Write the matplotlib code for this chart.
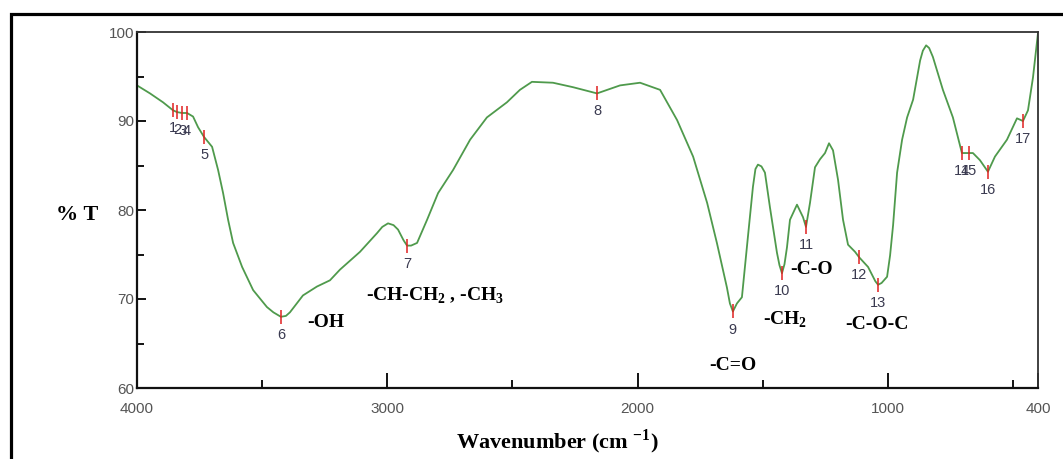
import matplotlib
matplotlib.use("Agg")
import matplotlib.pyplot as plt
from matplotlib.patches import Rectangle
from matplotlib.ticker import FixedLocator

plt.rcParams['mathtext.fontset'] = 'custom'
plt.rcParams['mathtext.rm'] = 'Liberation Serif'
plt.rcParams['mathtext.bf'] = 'Liberation Serif:bold'

# FTIR spectrum
wavenumber = [4000, 3948, 3896, 3856, 3840, 3820, 3800, 3776, 3756, 3732, 3700, 3676,
              3656, 3636, 3616, 3580, 3536, 3481, 3455, 3425, 3405, 3389, 3337, 3281,
              3229, 3189, 3109, 3041, 3020, 2997, 2975, 2957, 2935, 2921, 2905, 2881,
              2841, 2797, 2737, 2669, 2602, 2522, 2470, 2422, 2338, 2258, 2162, 2070,
              1990, 1910, 1842, 1778, 1722, 1683, 1643, 1631, 1619, 1603, 1583, 1559,
              1539, 1529, 1519, 1505, 1491, 1471, 1443, 1433, 1423, 1413, 1403, 1391,
              1363, 1339, 1327, 1311, 1291, 1271, 1251, 1235, 1219, 1199, 1179, 1159,
              1131, 1115, 1079, 1050, 1039, 1025, 1003, 991, 979, 963, 943, 923, 899,
              871, 860, 847, 835, 820, 780, 740, 704, 676, 660, 632, 600, 572, 524, 484,
              460, 440, 420, 400]
transmittance = [94.0, 93.1, 92.1, 91.2, 91.0, 90.9, 90.9, 90.5, 89.3, 88.2, 87.1, 84.5,
                 81.9, 78.9, 76.3, 73.6, 71.0, 69.1, 68.5, 68.0, 68.1, 68.5, 70.4, 71.4,
                 72.1, 73.3, 75.3, 77.4, 78.1, 78.5, 78.3, 77.8, 76.6, 76.0, 76.0, 76.3,
                 78.9, 81.9, 84.5, 87.9, 90.4, 92.1, 93.5, 94.4, 94.3, 93.8, 93.1, 94.0,
                 94.3, 93.5, 90.1, 86.0, 80.8, 76.3, 71.3, 69.5, 68.6, 69.5, 70.2, 77.0,
                 82.6, 84.6, 85.1, 84.9, 84.2, 80.3, 75.2, 73.8, 72.9, 73.9, 75.8, 78.9,
                 80.6, 79.2, 78.1, 80.8, 84.8, 85.7, 86.4, 87.5, 86.7, 83.4, 78.9, 76.1,
                 75.3, 74.7, 73.6, 72.0, 71.6, 71.8, 72.5, 74.9, 78.3, 84.2, 87.9, 90.4,
                 92.4, 96.8, 97.9, 98.5, 98.2, 97.2, 93.5, 90.4, 86.4, 86.4, 86.4, 85.6,
                 84.3, 86.0, 87.9, 90.3, 90.0, 91.2, 94.9, 99.9]

# picked peaks
peak_wn = [3856, 3840, 3820, 3800, 3732, 3425, 2921, 2162, 1619, 1423, 1327, 1115,
           1039, 704, 676, 600, 460]
peak_t = [91.2, 91.0, 90.9, 90.9, 88.2, 68.0, 76.0, 93.1, 68.6, 72.9, 78.1, 74.7,
          71.6, 86.4, 86.4, 84.3, 90.0]
peak_labels = [str(i) for i in range(1, 18)]

# band assignments: (text, wavenumber, %T)
bands = [('-OH', 3245, 67.4),
         ('-CH-CH$_\\mathbf{2}$ , -CH$_\\mathbf{3}$', 2810, 70.3),
         ('-C=O', 1620, 62.5),
         ('-CH$_\\mathbf{2}$', 1410, 67.7),
         ('-C-O', 1306, 73.3),
         ('-C-O-C', 1043, 67.1)]

fig = plt.figure(figsize=(10.63, 4.59), dpi=100)
ax = fig.add_axes([137 / 1063, 71 / 459, 901 / 1063, 356 / 459])

ax.plot(wavenumber, transmittance, color='#4f9a4c', lw=1.3)
ax.plot(peak_wn, peak_t, '|', color='#e02020', ms=10, mew=1.1)
for wn, t, lab in zip(peak_wn, peak_t, peak_labels):
    ax.annotate(lab, (wn, t), xytext=(0, -13), textcoords='offset points',
                ha='center', va='center', fontsize=10.5, color='#3a3a50',
                family=['Liberation Sans Narrow', 'Liberation Sans'])

for text, wn, t in bands:
    ax.text(wn, t, text, ha='center', va='center', fontsize=14, fontweight='bold',
            family='Liberation Serif', color='black',
            bbox=dict(facecolor='white', edgecolor='none', pad=1))

ax.set_xlim(4000, 400)
ax.set_ylim(60, 100)
ax.xaxis.set_major_locator(FixedLocator([4000, 3000, 2000, 1000, 400]))
ax.xaxis.set_minor_locator(FixedLocator([3500, 2500, 1500, 500]))
ax.yaxis.set_major_locator(FixedLocator([60, 70, 80, 90, 100]))
ax.yaxis.set_minor_locator(FixedLocator([65, 75, 85, 95]))
ax.tick_params(axis='x', which='major', direction='in', length=11, width=1.3,
               pad=10, labelsize=11, labelcolor='#555555')
ax.tick_params(axis='x', which='minor', direction='in', length=6, width=1.3)
ax.tick_params(axis='y', which='major', direction='in', length=6.5, width=1.3,
               pad=2, labelsize=11, labelcolor='#555555')
ax.tick_params(axis='y', which='minor', direction='in', length=5, width=1.3)
for lab in ax.get_xticklabels() + ax.get_yticklabels():
    lab.set_family(['Liberation Sans Narrow', 'Liberation Sans'])

for side in ['left', 'bottom']:
    ax.spines[side].set_linewidth(1.6)
    ax.spines[side].set_color('#111111')
for side in ['top', 'right']:
    ax.spines[side].set_linewidth(1.3)
    ax.spines[side].set_color('#333333')

fig.text(77 / 1063, 1 - 215 / 459, '% T', ha='center', va='center', fontsize=16,
         fontweight='bold', family='Liberation Serif')
fig.text(557 / 1063, 1 - 442 / 459, 'Wavenumber (cm $^{\\mathbf{-1}}$)', ha='center',
         va='center', fontsize=16, fontweight='bold', family='Liberation Serif')

# outer black frame, running off the right and bottom edges
fig.add_artist(Rectangle((11 / 1063, -0.2), 1.2, 1.2 - 14 / 459, transform=fig.transFigure,
                         fill=False, edgecolor='black', lw=2.3, clip_on=False))

fig.savefig('out.png', dpi=100)
